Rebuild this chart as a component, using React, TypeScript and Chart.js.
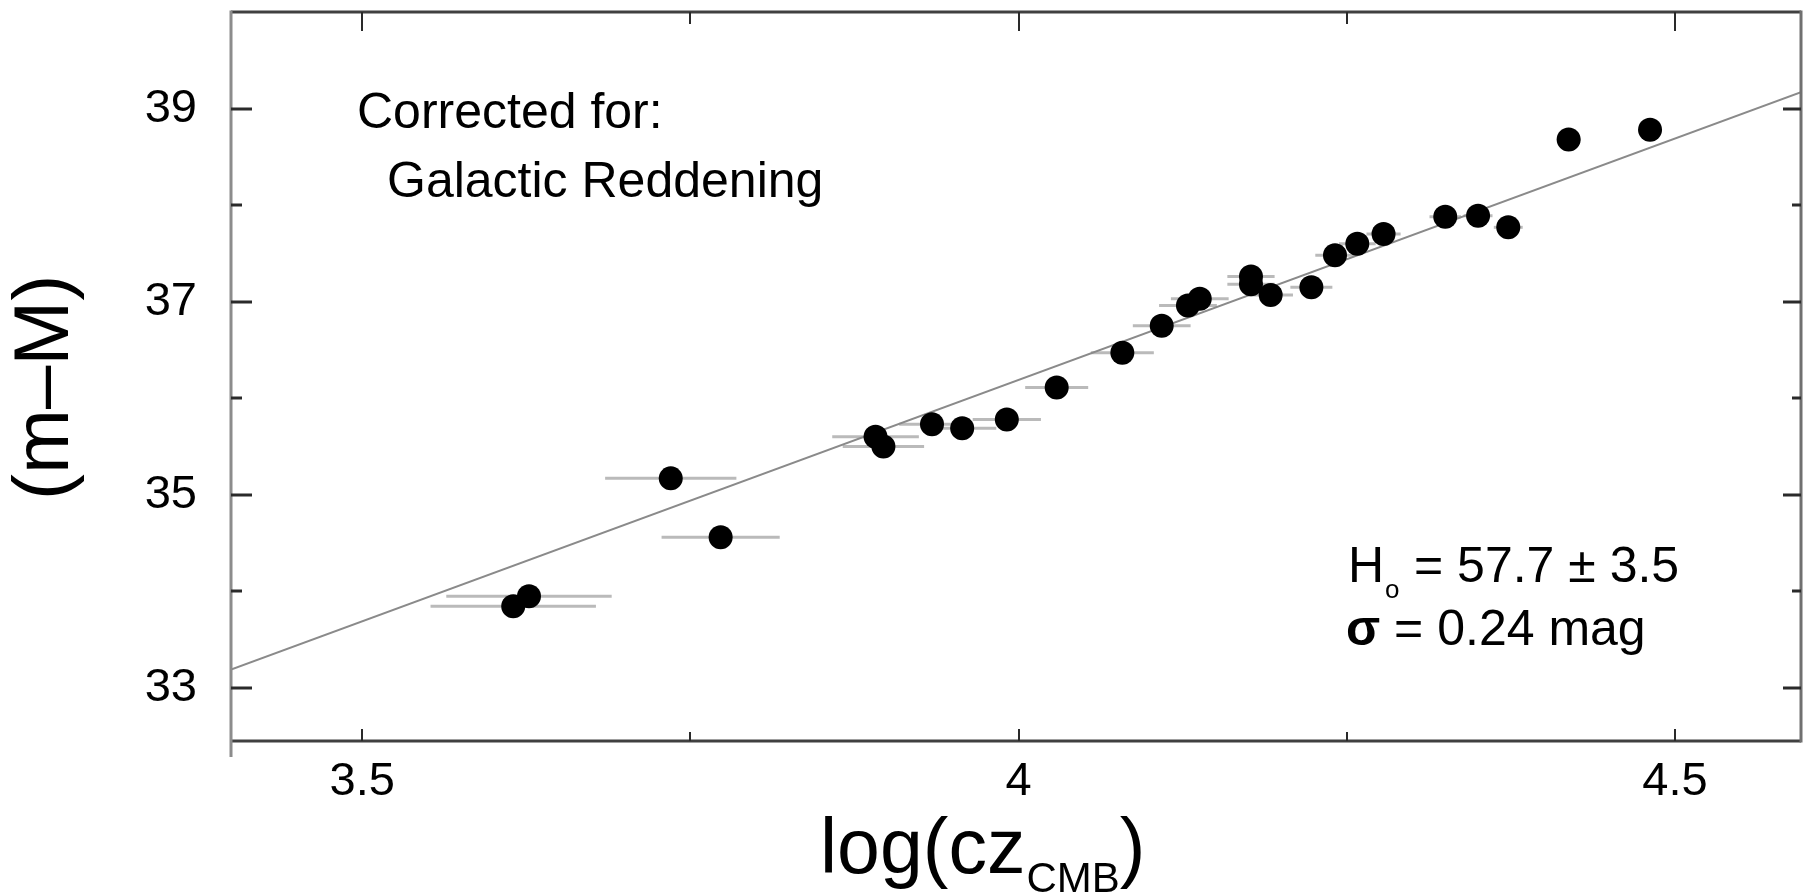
import React, { useEffect, useRef } from "react";
import { Chart, registerables } from "chart.js";

Chart.register(...registerables);

// ---- data ----
const logCz = [
  3.615, 3.627, 3.735, 3.773, 3.891, 3.897, 3.934, 3.957, 3.991, 4.029, 4.079,
  4.109, 4.129, 4.138, 4.177, 4.177, 4.192, 4.223, 4.241, 4.258, 4.278, 4.325,
  4.35, 4.373, 4.419, 4.481,
];
const distMod = [
  33.845, 33.948, 35.17, 34.56, 35.6, 35.5, 35.73, 35.69, 35.78, 36.11, 36.47,
  36.75, 36.96, 37.03, 37.26, 37.18, 37.07, 37.15, 37.48, 37.6, 37.7, 37.88,
  37.89, 37.77, 38.68, 38.78,
];
const logCzErr = [
  0.063, 0.063, 0.05, 0.045, 0.033, 0.031, 0.025, 0.026, 0.026, 0.024, 0.024,
  0.022, 0.022, 0.022, 0.018, 0.018, 0.017, 0.016, 0.015, 0.014, 0.013, 0.012,
  0.011, 0.011, 0.009, 0.008,
];
const fitLogCz = [3.4, 4.596];
const fitDistMod = [33.19, 39.17];

const xMajorTicks = [3.5, 4, 4.5];
const xMinorTicks = [3.75, 4.25];
const yMajorTicks = [33, 35, 37, 39];
const yMinorTicks = [34, 36, 38];
const xRange = [3.4, 4.596];
const yRange = [32.45, 40.0];

const FONT = '"Liberation Sans", Arial, Helvetica, sans-serif';

export default function App() {
  const ref = useRef<HTMLCanvasElement>(null);

  useEffect(() => {
    const canvas = ref.current;
    if (!canvas) return;

    const errorBars = {
      id: "errorBars",
      beforeDatasetsDraw(chart: any) {
        const { ctx, scales, chartArea } = chart;
        const x = scales.x;
        const y = scales.y;
        ctx.save();
        ctx.beginPath();
        ctx.rect(chartArea.left, chartArea.top, chartArea.right - chartArea.left, chartArea.bottom - chartArea.top);
        ctx.clip();
        ctx.strokeStyle = "#bababa";
        ctx.lineWidth = 3;
        logCz.forEach((v, i) => {
          const py = y.getPixelForValue(distMod[i]);
          ctx.beginPath();
          ctx.moveTo(x.getPixelForValue(v - logCzErr[i]), py);
          ctx.lineTo(x.getPixelForValue(v + logCzErr[i]), py);
          ctx.stroke();
        });
        ctx.restore();
      },
    };

    const frame = {
      id: "frame",
      afterDraw(chart: any) {
        const { ctx, scales, chartArea } = chart;
        const x = scales.x;
        const y = scales.y;
        const { left, right, top, bottom } = chartArea;
        ctx.save();
        ctx.lineCap = "butt";
        // frame
        ctx.lineWidth = 3;
        ctx.strokeStyle = "#404040";
        ctx.beginPath();
        ctx.moveTo(left, top);
        ctx.lineTo(right, top);
        ctx.moveTo(left, bottom);
        ctx.lineTo(right, bottom);
        ctx.stroke();
        ctx.strokeStyle = "#8c8c8c";
        ctx.beginPath();
        ctx.moveTo(left, top - 1.5);
        ctx.lineTo(left, bottom + 16);
        ctx.stroke();
        ctx.strokeStyle = "#707070";
        ctx.beginPath();
        ctx.moveTo(right, top - 1.5);
        ctx.lineTo(right, bottom + 1.5);
        ctx.stroke();

        // ticks (all pointing inward)
        ctx.strokeStyle = "#2a2a2a";
        ctx.lineWidth = 2;
        const xt = (vals: number[], lb: number, lt: number) => {
          vals.forEach((v) => {
            const px = Math.round(x.getPixelForValue(v));
            ctx.beginPath();
            ctx.moveTo(px, bottom);
            ctx.lineTo(px, bottom - lb);
            ctx.moveTo(px, top);
            ctx.lineTo(px, top + lt);
            ctx.stroke();
          });
        };
        xt(xMajorTicks, 12, 19);
        xt(xMinorTicks, 9, 12);
        ctx.lineWidth = 3;
        const yt = (vals: number[], ll: number, lr: number) => {
          vals.forEach((v) => {
            const py = Math.round(y.getPixelForValue(v));
            ctx.beginPath();
            ctx.moveTo(left, py);
            ctx.lineTo(left + ll, py);
            ctx.moveTo(right, py);
            ctx.lineTo(right - lr, py);
            ctx.stroke();
          });
        };
        yt(yMajorTicks, 21, 18);
        yt(yMinorTicks, 11, 9);

        // x axis title with subscript
        ctx.fillStyle = "#000";
        ctx.textBaseline = "alphabetic";
        ctx.textAlign = "left";
        ctx.font = `77px ${FONT}`;
        let tx = 820;
        ctx.fillText("log(cz", tx, 873);
        tx += ctx.measureText("log(cz").width + 1;
        ctx.font = `42px ${FONT}`;
        ctx.fillText("CMB", tx, 892);
        tx += ctx.measureText("CMB").width;
        ctx.font = `77px ${FONT}`;
        ctx.fillText(")", tx, 873);

        // annotations
        ctx.font = `50px ${FONT}`;
        ctx.fillText("Corrected for:", 357, 128);
        ctx.fillText("Galactic Reddening", 387, 197);

        ctx.fillText("H", 1348, 582);
        ctx.font = `26px ${FONT}`;
        ctx.fillText("o", 1385, 598);
        ctx.font = `50px ${FONT}`;
        ctx.fillText("= 57.7 \u00b1 3.5", 1414, 582);

        ctx.font = `bold 50px ${FONT}`;
        ctx.fillText("\u03c3", 1346, 645);
        const sw = ctx.measureText("\u03c3").width;
        ctx.font = `50px ${FONT}`;
        ctx.fillText(" = 0.24 mag", 1346 + sw, 645);
        ctx.restore();
      },
    };

    const chart = new Chart(canvas, {
      type: "scatter",
      data: {
        datasets: [
          {
            label: "SNe",
            data: logCz.map((v, i) => ({ x: v, y: distMod[i] })),
            pointRadius: 12,
            pointBackgroundColor: "#000",
            pointBorderColor: "#000",
            pointBorderWidth: 0,
            order: 0,
          },
          {
            label: "fit",
            data: fitLogCz.map((v, i) => ({ x: v, y: fitDistMod[i] })),
            showLine: true,
            borderColor: "#8a8a8a",
            borderWidth: 2,
            pointRadius: 0,
            fill: false,
            order: 1,
          },
        ],
      },
      options: {
        responsive: false,
        animation: false,
        events: [],
        layout: { autoPadding: false, padding: { top: 12, right: 4, left: 0, bottom: 0 } },
        plugins: {
          legend: { display: false },
          tooltip: { enabled: false },
        },
        scales: {
          x: {
            type: "linear",
            position: "bottom",
            min: xRange[0],
            max: xRange[1],
            afterBuildTicks: (s: any) => {
              s.ticks = xMajorTicks.map((v) => ({ value: v }));
            },
            afterFit: (s: any) => {
              s.height = 154;
              s.paddingLeft = 0;
              s.paddingRight = 0;
            },
            grid: { display: false, drawTicks: false },
            border: { display: false },
            ticks: {
              callback: (v: any) => String(v),
              color: "#000",
              font: { family: FONT, size: 47 },
              padding: 13,
              maxRotation: 0,
              autoSkip: false,
            },
          },
          y: {
            type: "linear",
            position: "left",
            min: yRange[0],
            max: yRange[1],
            afterBuildTicks: (s: any) => {
              s.ticks = yMajorTicks.map((v) => ({ value: v }));
            },
            afterFit: (s: any) => {
              s.width = 231;
              s.paddingTop = 0;
              s.paddingBottom = 0;
            },
            grid: { display: false, drawTicks: false },
            border: { display: false },
            ticks: {
              callback: (v: any) => String(v),
              color: "#000",
              font: { family: FONT, size: 47 },
              padding: 34,
            },
            title: {
              display: true,
              text: "(m\u2013M) ",
              color: "#000",
              font: { family: FONT, size: 78 },
              padding: { top: 0, bottom: 0 },
            },
          },
        },
      },
      plugins: [errorBars, frame],
    } as any);

    return () => chart.destroy();
  }, []);

  return (
    <div style={{ position: "absolute", left: 0, top: 0, width: 1805, height: 895, background: "#fff" }}>
      <canvas ref={ref} width={1805} height={895} style={{ display: "block" }} />
    </div>
  );
}
